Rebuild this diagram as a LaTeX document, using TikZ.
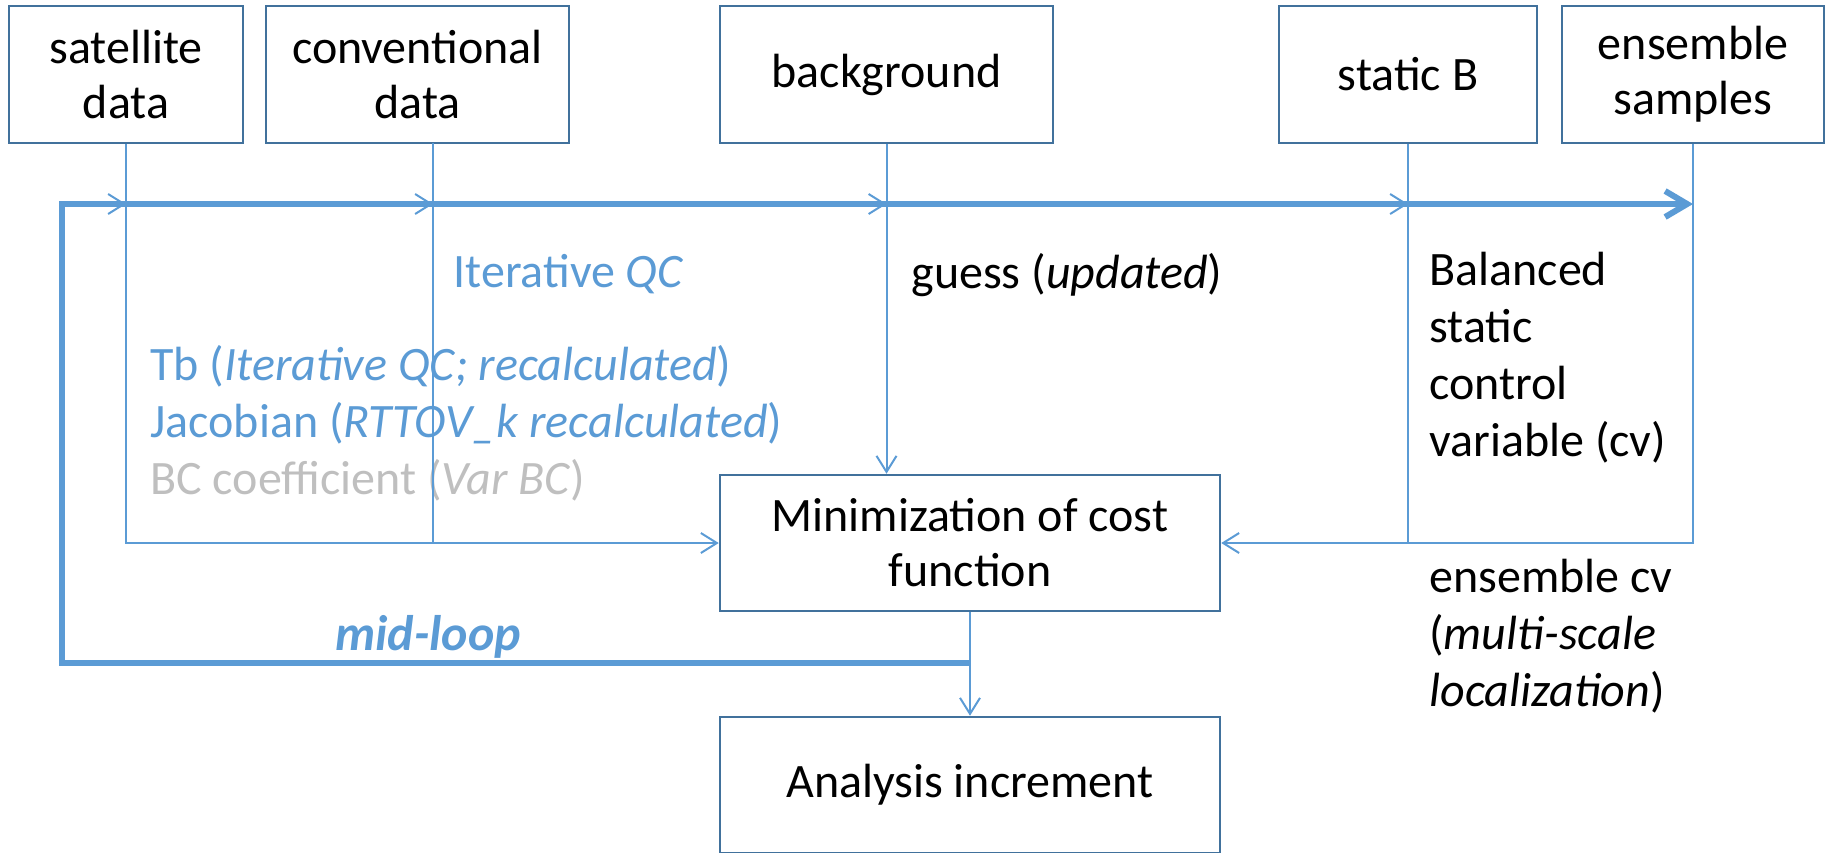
\documentclass[tikz,border=0pt]{standalone}
\usepackage{fontspec}
\setmainfont{Carlito}
\usetikzlibrary{arrows.meta,calc}
\definecolor{boxline}{HTML}{41719C}
\definecolor{lnblue}{HTML}{5B9BD5}
\definecolor{txgray}{HTML}{BFBFBF}
\begin{document}
\begin{tikzpicture}[x=0.5pt,y=-0.5pt,
  box/.style={draw=boxline, line width=1.25pt, fill=white, inner sep=0pt, align=center,
    minimum height=68.5pt, font=\fontsize{24}{27.5}\selectfont},
  conn/.style={draw=lnblue, line width=1pt},
  connarr/.style={conn, -{Straight Barb[length=8pt,width=10pt,line width=1pt]}},
  loopline/.style={draw=lnblue, line width=3pt},
  lbl/.style={inner sep=0pt, anchor=base west, font=\fontsize{24}{28.6}\selectfont},
]
\useasboundingbox (0,0) rectangle (1829,852);

% boxes
\node[box, minimum width=117pt]   (sat)   at (126,74.5)   {satellite\\data};
\node[box, minimum width=151.5pt] (conv)  at (417.5,74.5) {conventional\\data};
\node[box, minimum width=166.5pt] (bg)    at (886.5,74.5) {background};
\node[box, minimum width=129pt]   (statB) at (1408,74.5)  {static B};
\node[box, minimum width=131pt]   (ens)   at (1693,74.5)  {ensemble\\samples};
\node[box, minimum width=250pt, minimum height=68pt] (min) at (970,543) {Minimization of cost\\function};
\node[box, minimum width=250pt, minimum height=68pt] (ana) at (970,785) {Analysis increment};

% labels
\node[lbl, text=lnblue] (iqc) at (453,287) {Iterative \textit{QC}};
\node[lbl] (sattxt) at (150,380) {\begin{tabular}[t]{@{}l@{}}
  \color{lnblue}Tb (\textit{Iterative QC; recalculated})\\
  \color{lnblue}Jacobian (\textit{RTTOV\_k recalculated})\\
  \color{txgray}BC coefficient (\textit{Var BC})\end{tabular}};
\node[lbl] (guess) at (911,288) {guess (\textit{updated})};
\node[lbl] (bal) at (1429,285) {\begin{tabular}[t]{@{}l@{}}Balanced\\static\\control\\variable (cv)\end{tabular}};
\node[lbl] (enscv) at (1429,592) {\begin{tabular}[t]{@{}l@{}}ensemble cv\\(\textit{multi-scale}\\\textit{localization})\end{tabular}};
\node[lbl, text=lnblue, font=\fontsize{25}{30}\selectfont\bfseries\itshape] (mid) at (335,650) {mid-loop};

% coordinates
\coordinate (convO) at (433,143);
\coordinate (lpBL) at (62,663);
\coordinate (lpTL) at (62,204);
\coordinate (lpEnd) at (ens.south |- lpTL);

% thick mid-loop
\draw[loopline, -{Straight Barb[length=11pt,width=13pt,line width=3pt]}]
  (min.south |- lpBL) -- (lpBL) -- (lpTL) -- (lpEnd);

% thin connectors
\draw[conn] (sat.south) |- (convO |- min.west);
\draw[connarr] (convO) |- (min.west);
\draw[connarr] (bg.south) -- (bg.south |- min.north);
\draw[conn] (ens.south) |- (statB.south |- min.east);
\draw[connarr] (statB.south) |- (min.east);
\draw[connarr] (min.south) -- (ana.north);

% thin arrowheads on the loop
\foreach \n in {sat.south, convO, bg.south, statB.south}
  \draw[connarr] ($(\n |- lpTL)+(-20,0)$) -- (\n |- lpTL);
\end{tikzpicture}
\end{document}
